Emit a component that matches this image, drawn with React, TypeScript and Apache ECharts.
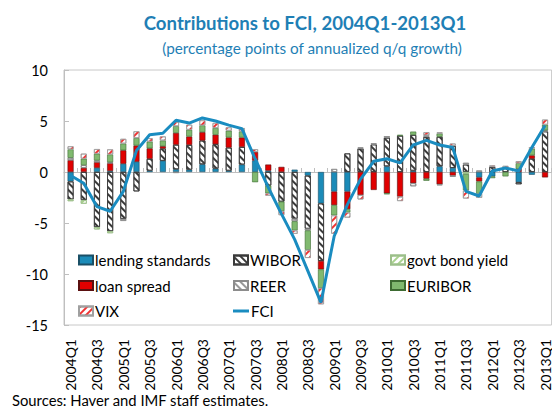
import React, { useEffect, useRef } from "react";
import * as echarts from "echarts";

const quarters = [
  "2004Q1", "2004Q2", "2004Q3", "2004Q4", "2005Q1", "2005Q2", "2005Q3", "2005Q4",
  "2006Q1", "2006Q2", "2006Q3", "2006Q4", "2007Q1", "2007Q2", "2007Q3", "2007Q4",
  "2008Q1", "2008Q2", "2008Q3", "2008Q4", "2009Q1", "2009Q2", "2009Q3", "2009Q4",
  "2010Q1", "2010Q2", "2010Q3", "2010Q4", "2011Q1", "2011Q2", "2011Q3", "2011Q4",
  "2012Q1", "2012Q2", "2012Q3", "2012Q4", "2013Q1",
];

const lendingStandards = [
  -0.93, 0, 0.4, 0.1, 0.8, 1.0, 0.13, 1.1, 0.27, 0.23, 0.76, 0.33, 0.13, 0.73, 1.13, 0.13,
  0, 0.23, -0.36, -3.08, -1.92, -1.92, 0, 0, 0.56, 0, 0.13, 0, 0.56, 0.4, 0, -0.53,
  -0.43, 0, -1.0, -0.27, 0,
];
const wibor = [
  -1.76, -2.75, -5.4, -5.8, -4.6, -1.9, 1.16, 1.2, 2.4, 2.42, 2.32, 2.39, 2.26, 1.72, 0, -1.33,
  -2.9, -4.58, -5.2, -5.64, 0, 1.82, 2.3, 2.7, 2.8, 3.55, 3.5, 3.45, 2.89, 2.16, 0.73, 0,
  0.5, 0.4, -0.2, 1.3, 3.98,
];
const govtBondYield = [
  -0.17, -0.36, -0.23, -0.2, 0, 0, 0, 0, 0, 0, 0, 0, 0, 0, 0, 0,
  0, 0, 0, 0, 0, 0, 0, 0, 0, 0, 0, 0, 0, 0, -0.2, 0,
  0, 0, 0, 0, 0,
];
const loanSpread = [
  1.16, 0.4, 0.56, 0.76, 1.33, 1.6, 1.03, 0.23, 1.16, 0.83, 0.83, 0.93, 1.0, 0.93, 0.83, 0.6,
  0.5, 0, 0, -0.83, -1.33, -1.72, -2.26, -1.76, -2.09, -2.42, -1.1, -0.66, -1.2, -0.36, 0, -0.4,
  0, 0, 0.3, 0.33, -0.53,
];
const reer = [
  0.23, 0.27, 0.17, 0.1, -0.2, 0, 0, 0, -0.1, 0, 0, 0, 0, 0, 0, 0,
  0, -0.25, -0.17, 0, 0.3, 0, 0.1, 0.1, 0.15, 0, -0.3, 0.15, -0.1, -0.1, 0.17, 0.15,
  0, 0, 0, 0, 0.1,
];
const euribor = [
  0.83, 0.63, 0.66, 0.76, 0.66, 0.73, 0.66, 0.56, 0.66, 0.66, 0.66, 0.66, 0.66, 0.6, -1.0, -0.76,
  -0.93, -0.9, -1.9, -1.82, -1.0, -0.33, 0, 0, -0.1, 0.1, 0.33, -0.2, 0.33, 0, -1.6, -1.2,
  -0.17, -0.43, 0.56, 0.66, 0.56,
];
const vix = [
  0.3, 0.5, 0.46, 0.5, 0.46, 0.66, 0.33, 0.4, 0.43, 0.5, 0.5, 0.5, 0.33, 0.33, 0.27, -0.23,
  -0.4, -0.33, -0.8, -1.6, -1.8, -0.5, -0.43, 0, 0, -0.43, 0, 0.3, 0.1, 0.23, -0.8, -0.4,
  0.15, 0.2, 0.2, 0.15, 0.5,
];
const fci = [
  -0.35, -1.1, -3.4, -3.85, -1.9, 2.1, 3.65, 3.8, 5.07, 4.8, 5.3, 5.0, 4.6, 4.25, 1.3, -1.5,
  -4.1, -6.6, -9.7, -12.8, -6.3, -3.2, -0.7, 1.05, 1.3, 0.9, 2.65, 3.1, 2.65, 2.4, -1.9, -2.35,
  0.1, 0.4, 0.1, 2.4, 4.55,
];

const yTicks = [-15, -10, -5, 0, 5, 10];

const FONT = "Lato";
const BLUE = "#1b8bb8";
const LINE_BLUE = "#1a8cc0";

const hatch = (color: string, dir: number) => ({
  symbol: "rect",
  symbolSize: 1,
  color,
  dashArrayX: [1, 0],
  dashArrayY: [1.3, 2.7],
  rotation: (dir * Math.PI) / 4,
});

const clean = (arr: number[]) => arr.map((v) => (v === 0 ? null : v));

const barSeries = [
  { name: "lending standards", data: lendingStandards, itemStyle: { color: BLUE, borderColor: "#1a4f66", borderWidth: 0.6 } },
  { name: "WIBOR", data: wibor, itemStyle: { color: "#ffffff", borderColor: "#3a3a3a", borderWidth: 0.8, decal: hatch("#3a3a3a", 1) } },
  { name: "govt bond yield", data: govtBondYield, itemStyle: { color: "#ffffff", borderColor: "#9cbf8a", borderWidth: 0.8, decal: hatch("#a9d18e", -1) } },
  { name: "loan spread", data: loanSpread, itemStyle: { color: "#e00000", borderColor: "#5a1010", borderWidth: 0.6 } },
  { name: "REER", data: reer, itemStyle: { color: "#ffffff", borderColor: "#8c8c8c", borderWidth: 0.8, decal: hatch("#9a9a9a", 1) } },
  { name: "EURIBOR", data: euribor, itemStyle: { color: "#80b96f", borderColor: "#3d6b32", borderWidth: 0.6 } },
  { name: "VIX", data: vix, itemStyle: { color: "#ffffff", borderColor: "#a0a0a0", borderWidth: 0.8, decal: hatch("#f03030", -1) } },
];

const legendRows = [260, 285.5, 311];
const legendCols = [78, 233, 390];
const legendLayout = [
  ["lending standards", 0, 0],
  ["WIBOR", 1, 0],
  ["govt bond yield", 2, 0],
  ["loan spread", 0, 1],
  ["REER", 1, 1],
  ["EURIBOR", 2, 1],
  ["VIX", 0, 2],
  ["FCI", 1, 2],
] as const;

export default function App() {
  const ref = useRef<HTMLDivElement>(null);
  useEffect(() => {
    const chart = echarts.init(ref.current!, null, { renderer: "svg" });
    const option: any = {
      animation: false,
      backgroundColor: "#ffffff",
      textStyle: { fontFamily: FONT },
      title: [
        {
          text: "Contributions to FCI, 2004Q1-2013Q1",
          left: 300,
          textAlign: "center",
          top: 8,
          textStyle: { fontFamily: FONT, fontSize: 18.6, fontWeight: "bold", color: "#1f7fb5" },
        },
        {
          text: "(percentage points of annualized q/q growth)",
          left: 307,
          textAlign: "center",
          top: 35,
          textStyle: { fontFamily: FONT, fontSize: 15.3, fontWeight: "normal", color: "#1f7fb5" },
        },
        {
          text: "Sources: Haver and IMF staff estimates.",
          left: 12,
          top: 392,
          padding: 0,
          textStyle: { fontFamily: FONT, fontSize: 14.8, fontWeight: "normal", color: "#000" },
        },
      ],
      legend: legendLayout.map(([name, c, r]) => {
        const isLine = name === "FCI";
        return {
          data: [{ name, icon: "rect" }],
          left: legendCols[c],
          top: legendRows[r] - 8,
          padding: 0,
          itemWidth: isLine ? 16 : 14,
          itemHeight: isLine ? 3 : 9,
          selectedMode: false,
          textStyle: { fontFamily: FONT, fontSize: 15, color: "#000", lineHeight: 16, padding: [0, 0, 0, -3] },
        };
      }),
      grid: {
        left: 64,
        top: 70,
        right: -2,
        bottom: 83,
        show: true,
        borderColor: "#c8c8c8",
        borderWidth: 1,
      },
      xAxis: [
        {
          type: "category",
          data: quarters,
          position: "bottom",
          axisLine: { onZero: false, show: false },
          axisTick: { show: false },
          axisLabel: { interval: 1, rotate: 90, margin: 14, fontSize: 14, color: "#000", fontFamily: FONT },
        },
        {
          type: "category",
          data: quarters,
          position: "bottom",
          axisLine: { onZero: true, show: true, lineStyle: { color: "#bfbfbf", width: 1 } },
          axisTick: { show: true, inside: true, length: 4, interval: 0, lineStyle: { color: "#bfbfbf" } },
          axisLabel: { show: false },
        },
      ],
      yAxis: {
        type: "value",
        min: yTicks[0],
        max: yTicks[yTicks.length - 1],
        interval: 5,
        axisLine: { show: true, lineStyle: { color: "#bfbfbf" } },
        axisTick: { show: true, inside: true, length: 5, lineStyle: { color: "#bfbfbf" } },
        splitLine: { show: false },
        axisLabel: { fontSize: 14.5, color: "#000", margin: 16, fontFamily: FONT },
      },
      series: [
        ...barSeries.map((s) => ({
          type: "bar",
          name: s.name,
          stack: "total",
          xAxisIndex: 0,
          barWidth: 6,
          data: clean(s.data),
          itemStyle: s.itemStyle,
        })),
        {
          type: "line",
          name: "FCI",
          data: fci,
          xAxisIndex: 0,
          symbol: "none",
          z: 10,
          itemStyle: { color: LINE_BLUE },
          lineStyle: { color: LINE_BLUE, width: 3 },
        },
      ],
    };
    chart.setOption(option);
    return () => chart.dispose();
  }, []);
  return (
    <div
      ref={ref}
      style={{ position: "absolute", left: 0, top: 0, width: 552, height: 408, background: "#fff" }}
    />
  );
}
